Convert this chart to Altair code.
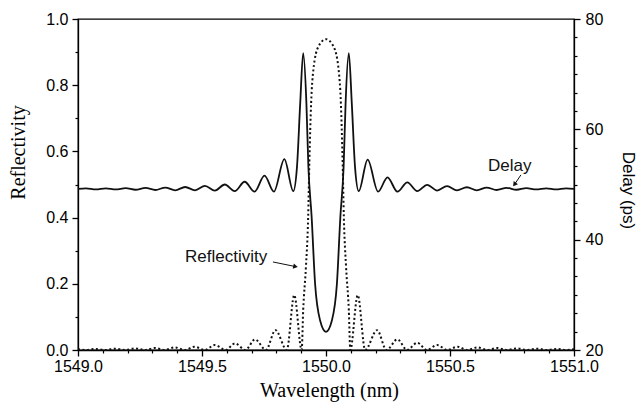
import altair as alt
import pandas as pd

# ---------------- data ----------------
wavelength_refl = [
    1549.000, 1549.030, 1549.070, 1549.110, 1549.150, 1549.190, 1549.230, 1549.270,
    1549.310, 1549.350, 1549.390, 1549.430, 1549.470, 1549.510, 1549.552, 1549.595,
    1549.633, 1549.675, 1549.714, 1549.758, 1549.796, 1549.842, 1549.872, 1549.902,
    1549.908, 1549.919, 1549.928, 1549.933, 1549.940, 1549.949, 1549.969, 1550.000,
    1550.031, 1550.051, 1550.060, 1550.067, 1550.072, 1550.081, 1550.092, 1550.098,
    1550.128, 1550.158, 1550.206, 1550.244, 1550.288, 1550.327, 1550.368, 1550.407,
    1550.448, 1550.490, 1550.530, 1550.570, 1550.610, 1550.650, 1550.690, 1550.730,
    1550.770, 1550.810, 1550.850, 1550.890, 1550.930, 1550.970, 1551.000,
]
reflectivity = [
    0.002, 0.0, 0.003, 0.0, 0.004, 0.0, 0.005, 0.0,
    0.006, 0.0, 0.008, 0.0, 0.010, 0.0, 0.015, 0.0,
    0.020, 0.0, 0.032, 0.0, 0.060, 0.0, 0.166, 0.0,
    0.12, 0.25, 0.40, 0.57, 0.745, 0.846, 0.916, 0.939,
    0.916, 0.846, 0.745, 0.57, 0.40, 0.25, 0.12, 0.0,
    0.166, 0.0, 0.060, 0.0, 0.032, 0.0, 0.022, 0.0,
    0.015, 0.0, 0.010, 0.0, 0.008, 0.0, 0.006, 0.0,
    0.005, 0.0, 0.004, 0.0, 0.003, 0.0, 0.002,
]

wavelength_delay = [
    1549.000, 1549.032, 1549.072, 1549.112, 1549.152, 1549.192, 1549.232, 1549.272,
    1549.312, 1549.352, 1549.392, 1549.432, 1549.472, 1549.512, 1549.552, 1549.592,
    1549.632, 1549.672, 1549.712, 1549.752, 1549.790, 1549.832, 1549.868, 1549.883,
    1549.896, 1549.908, 1549.921, 1549.929, 1549.942, 1549.956, 1549.976, 1550.000,
    1550.024, 1550.044, 1550.058, 1550.071, 1550.079, 1550.092, 1550.104, 1550.117,
    1550.132, 1550.168, 1550.210, 1550.248, 1550.288, 1550.328, 1550.368, 1550.408,
    1550.448, 1550.488, 1550.528, 1550.568, 1550.608, 1550.648, 1550.688, 1550.728,
    1550.768, 1550.808, 1550.848, 1550.888, 1550.928, 1550.968, 1551.000,
]
delay_ps = [
    49.2, 49.3, 49.1, 49.3, 49.1, 49.35, 49.05, 49.4,
    49.0, 49.45, 48.95, 49.55, 48.95, 49.75, 48.9, 50.0,
    48.8, 50.5, 48.7, 51.6, 48.7, 54.6, 48.8, 53.2,
    64.7, 73.8, 64.7, 53.2, 44.2, 32.0, 25.4, 23.3,
    25.4, 32.0, 44.2, 53.2, 64.7, 73.8, 64.7, 53.2,
    48.8, 54.5, 48.7, 51.3, 48.7, 50.4, 48.8, 49.95,
    48.9, 49.7, 48.95, 49.5, 48.95, 49.45, 49.0, 49.4,
    49.05, 49.35, 49.1, 49.3, 49.1, 49.3, 49.2,
]

# axis tick values (major = labelled, minor = short unlabelled ticks)
x_major = [1549.0, 1549.5, 1550.0, 1550.5, 1551.0]
x_minor = [1549.1, 1549.2, 1549.3, 1549.4, 1549.6, 1549.7, 1549.8, 1549.9,
           1550.1, 1550.2, 1550.3, 1550.4, 1550.6, 1550.7, 1550.8, 1550.9]
yl_major = [0.0, 0.2, 0.4, 0.6, 0.8, 1.0]
yl_minor = [0.1, 0.3, 0.5, 0.7, 0.9]
yr_major = [20, 40, 60, 80]
yr_minor = [23.333, 26.667, 30, 33.333, 36.667, 43.333, 46.667, 50, 53.333, 56.667,
            63.333, 66.667, 70, 73.333, 76.667]

# annotations (data coordinates: wavelength, reflectivity)
label_text = ["Reflectivity", "Delay"]
label_x = [1549.4315, 1550.653]
label_y = [0.281, 0.556]

arrow_id = ["r", "r", "d", "d"]
arrow_x = [1549.786, 1549.877, 1550.786, 1550.760]
arrow_y = [0.266, 0.252, 0.529, 0.500]
head_x = [1549.877, 1550.760]
head_y = [0.252, 0.500]
head_angle = [12.6, 126.0]

# ---------------- chart ----------------
SANS = "Liberation Sans"
SERIF = "Liberation Serif"
INK = "#111111"

refl_df = pd.DataFrame({"wl": wavelength_refl, "r": reflectivity})
delay_df = pd.DataFrame({"wl": wavelength_delay, "d": delay_ps})
label_df = pd.DataFrame({"wl": label_x, "r": label_y, "label": label_text})
arrow_df = pd.DataFrame({"wl": arrow_x, "r": arrow_y, "id": arrow_id})
head_df = pd.DataFrame({"wl": head_x, "r": head_y, "ang": head_angle})

x_scale = alt.Scale(domain=[1549.0, 1551.0], nice=False, zero=False)
yl_scale = alt.Scale(domain=[0.0, 1.0], nice=False, zero=False)
yr_scale = alt.Scale(domain=[20, 80], nice=False, zero=False)

common_axis = dict(
    grid=False, domainColor="black", tickColor="black", labelColor="black",
    titleColor="black", domainWidth=1.3, tickWidth=1.3, tickSize=6,
    labelFont=SANS, labelFontSize=16, labelOverlap=False, labelFlush=False,
    titleFontWeight="normal",
)
minor_axis = dict(
    grid=False, domain=False, labels=False, title=None, tickColor="black",
    tickWidth=1.2, tickSize=3,
)

x_axis = alt.Axis(
    orient="bottom", values=x_major, format=".1f",
    title="Wavelength (nm)", titleFont=SERIF, titleFontSize=20,
    titleX=251, titleY=40, titleAlign="center", titleBaseline="middle",
    labelPadding=2, **common_axis,
)
x_axis_minor = alt.Axis(orient="bottom", values=x_minor, **minor_axis)

yl_axis = alt.Axis(
    orient="left", values=yl_major, format=".1f",
    title="Reflectivity", titleFont=SERIF, titleFontSize=20, titleAngle=270,
    titleX=-60, titleY=133, titleAlign="center", titleBaseline="middle",
    labelPadding=4, **common_axis,
)
yl_axis_minor = alt.Axis(orient="left", values=yl_minor, **minor_axis)

yr_axis = alt.Axis(
    orient="right", values=yr_major, format="d",
    title="Delay (ps)", titleFont=SANS, titleFontSize=17, titleAngle=90,
    titleX=53, titleY=171, titleAlign="center", titleBaseline="middle",
    labelPadding=5, **common_axis,
)
yr_axis_minor = alt.Axis(orient="right", values=yr_minor, **minor_axis)

refl_line = alt.Chart(refl_df).mark_line(
    interpolate="monotone", strokeDash=[2, 2.5], strokeWidth=2, color=INK
).encode(
    x=alt.X("wl:Q", scale=x_scale, axis=x_axis),
    y=alt.Y("r:Q", scale=yl_scale, axis=yl_axis),
)

refl_minor = alt.Chart(refl_df).mark_line(opacity=0).encode(
    x=alt.X("wl:Q", scale=x_scale, axis=x_axis_minor),
    y=alt.Y("r:Q", scale=yl_scale, axis=yl_axis_minor),
)

labels = alt.Chart(label_df).mark_text(
    align="left", baseline="middle", font=SANS, fontSize=17, color=INK
).encode(
    x=alt.X("wl:Q", scale=x_scale, axis=None),
    y=alt.Y("r:Q", scale=yl_scale, axis=None),
    text="label:N",
)

arrows = alt.Chart(arrow_df).mark_line(color=INK, strokeWidth=1).encode(
    x=alt.X("wl:Q", scale=x_scale, axis=None),
    y=alt.Y("r:Q", scale=yl_scale, axis=None),
    detail="id:N",
)

heads = alt.Chart(head_df).mark_point(
    shape="triangle-right", filled=True, size=28, color=INK, opacity=1
).encode(
    x=alt.X("wl:Q", scale=x_scale, axis=None),
    y=alt.Y("r:Q", scale=yl_scale, axis=None),
    angle=alt.Angle("ang:Q", scale=None),
)

left = alt.layer(refl_line, refl_minor, labels, arrows, heads).resolve_axis(
    x="independent", y="independent"
)

delay_line = alt.Chart(delay_df).mark_line(
    interpolate="monotone", strokeWidth=1.8, color=INK
).encode(
    x=alt.X("wl:Q", scale=x_scale, axis=None),
    y=alt.Y("d:Q", scale=yr_scale, axis=yr_axis),
)

delay_minor = alt.Chart(delay_df).mark_line(opacity=0).encode(
    x=alt.X("wl:Q", scale=x_scale, axis=None),
    y=alt.Y("d:Q", scale=yr_scale, axis=yr_axis_minor),
)

right = alt.layer(delay_line, delay_minor).resolve_axis(y="independent")

chart = alt.layer(left, right).resolve_scale(y="independent").resolve_axis(
    x="independent", y="independent"
).properties(
    width=496, height=331,
    padding={"left": 78, "top": 19, "right": 66, "bottom": 56},
    autosize=alt.AutoSizeParams(type="none"),
    background="white",
).configure_view(stroke="black", strokeWidth=1.3)

chart.save("out.html", embed_options={"renderer": "svg", "actions": False})
